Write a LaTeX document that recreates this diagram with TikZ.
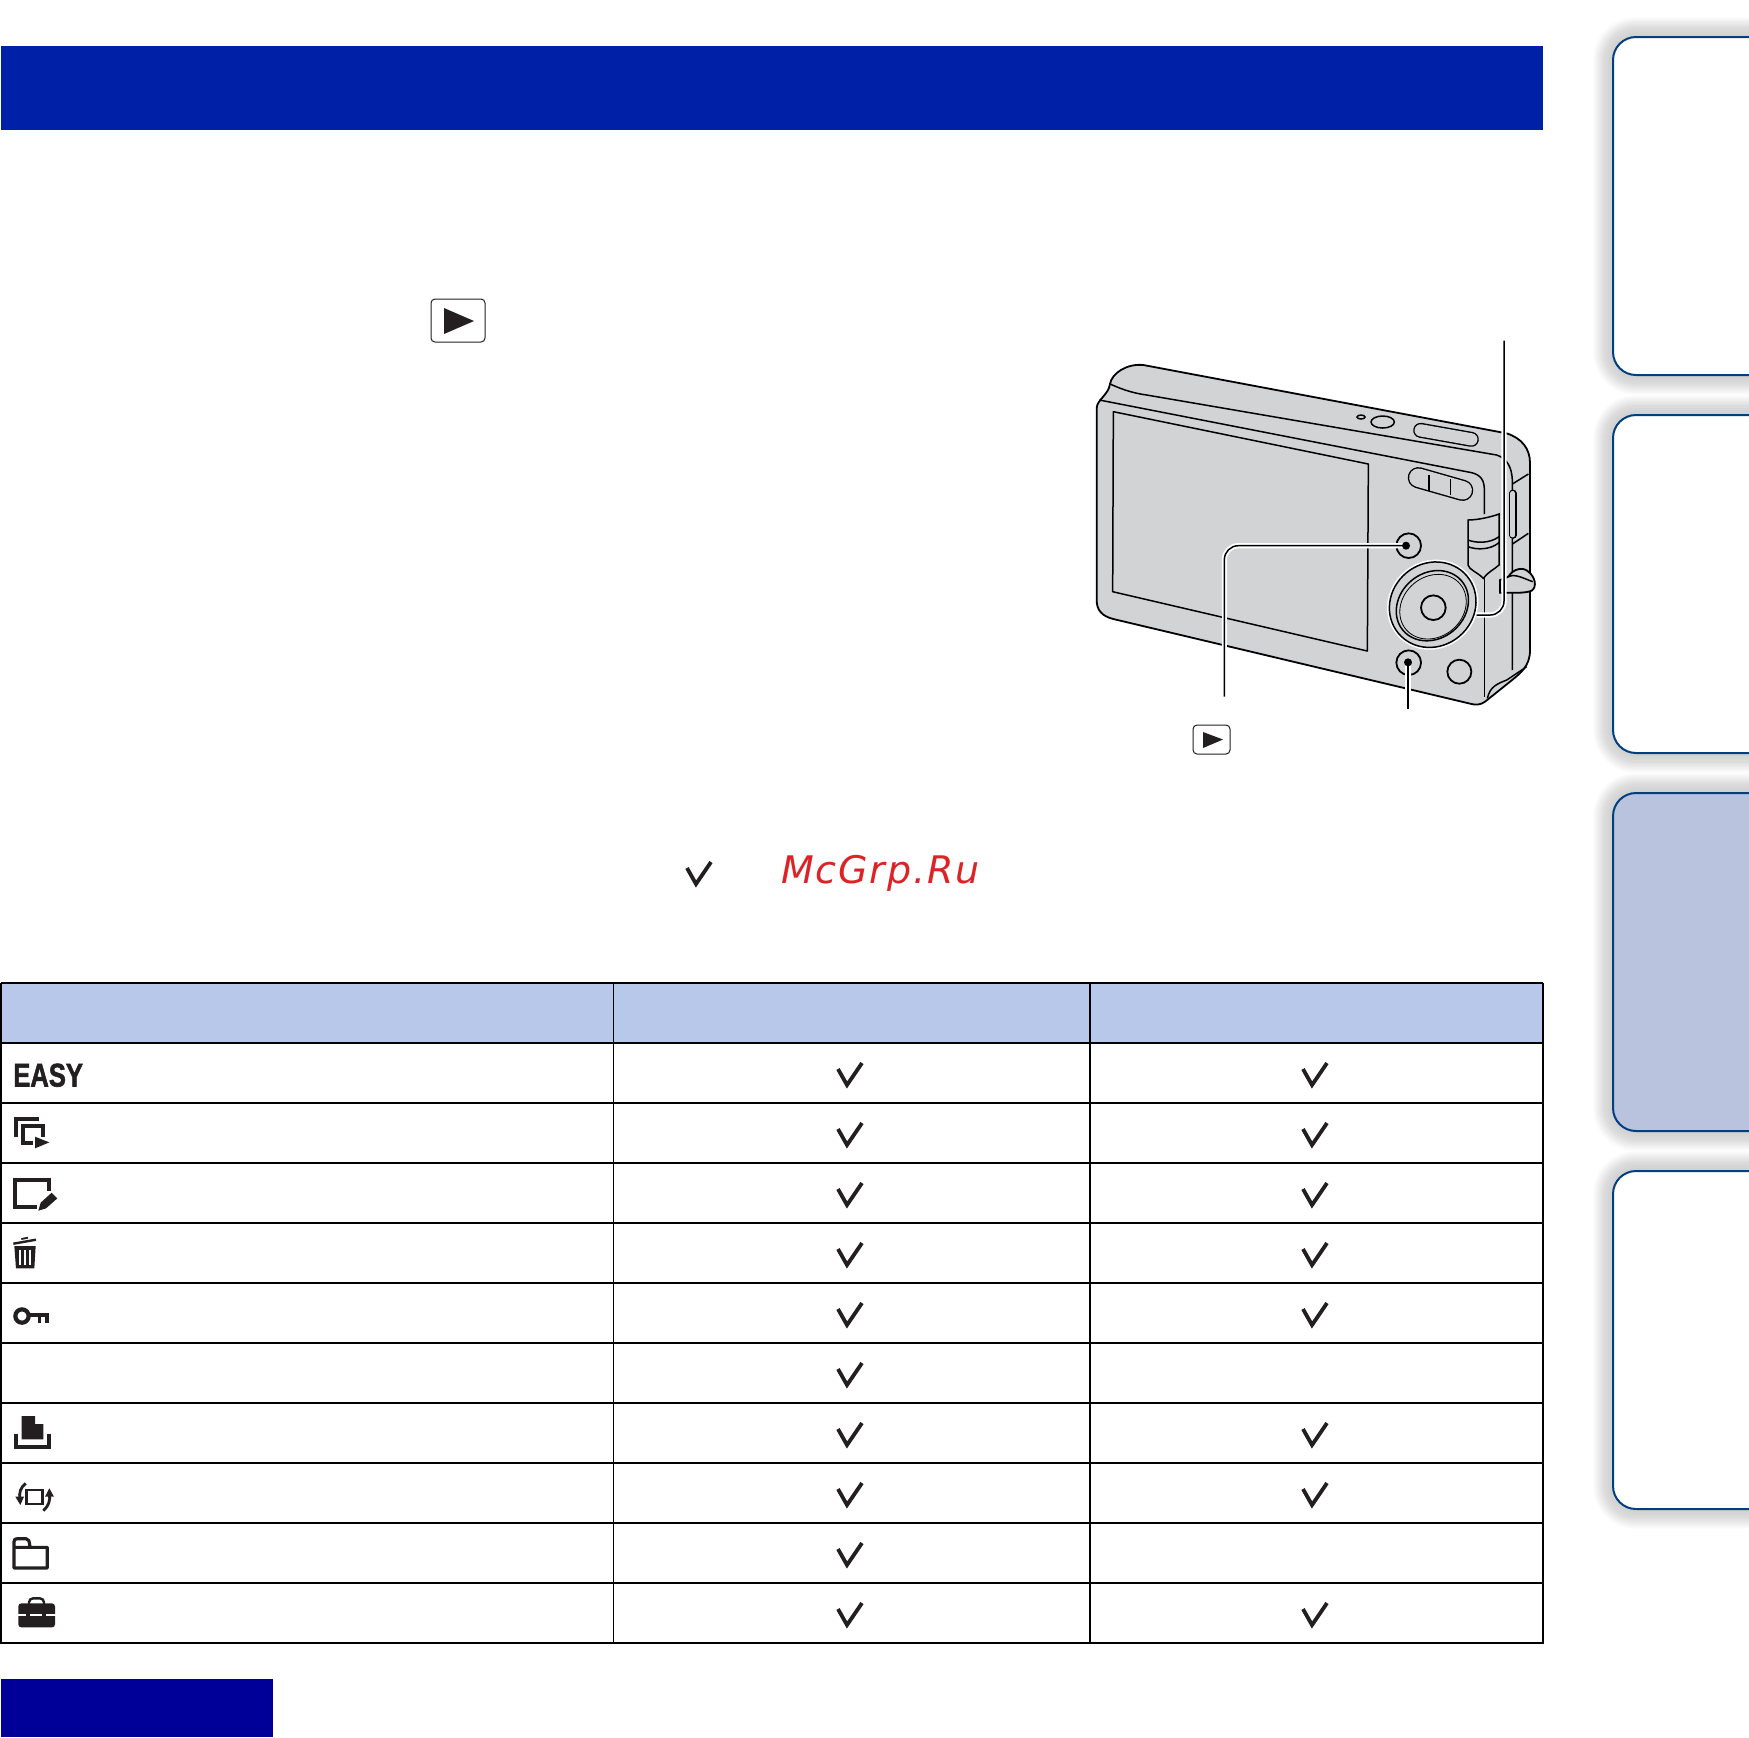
\documentclass[tikz,border=0pt]{standalone}
\usepackage{fontspec}
\newfontfamily\wmfont[LetterSpace=4.8]{DejaVu Sans}
\newfontfamily\easyfont{Liberation Sans}
\definecolor{barblue}{HTML}{0020A8}
\definecolor{navy}{HTML}{000099}
\definecolor{headblue}{HTML}{B8C8EA}
\definecolor{tabline}{HTML}{003F80}
\definecolor{tabfill}{HTML}{B9C3DD}
\definecolor{ink}{HTML}{231F20}
\definecolor{body}{HTML}{D1D3D4}
\definecolor{wmred}{HTML}{DC2428}
\tikzset{
  tabbox/.style={draw=tabline,line width=1pt,rounded corners=11.5pt},
  tline/.style={draw=black,line width=1pt},
  camline/.style={draw=black,line width=.75pt},
  camfill/.style={camline,fill=body},
  halo/.style={draw=white,line width=2.6pt},
  leader/.style={draw=black,line width=.75pt},
  icon/.style={draw=ink,line width=2pt},
  playbox/.style={draw=ink,line width=.5pt,rounded corners=2pt,fill=white},
  pics/chk/.style={code={\draw[ink,line width=1.9pt,miter limit=10] (-12,-5) -- (-3,11) -- (12,-11);}}
}
\begin{document}
\begin{tikzpicture}[x=.5pt,y=-.5pt]
\clip (0,0) rectangle (1749,1737);
\fill[white] (0,0) rectangle (1749,1737);
% side tabs with soft shadow
\foreach \t/\h in {37/375,415/753,793/1131,1171/1509}{
  \foreach \i in {3,5,7,9,10,...,20}{
    \pgfmathsetmacro\rr{11.5+\i/2}
    \fill[black,fill opacity=.012,rounded corners=\rr pt]
      (1613-\i,\t-\i) rectangle (1800,\h+\i);
  }
}
\draw[tabbox,fill=white] (1613,37) rectangle (1800,375);
\draw[tabbox,fill=white] (1613,415) rectangle (1800,753);
\draw[tabbox,fill=tabfill] (1613,793) rectangle (1800,1131);
\draw[tabbox,fill=white] (1613,1171) rectangle (1800,1509);
% title bar and bottom block
\fill[barblue] (1,46) rectangle (1543,130);
\fill[navy] (1,1679) rectangle (273,1737);
% play symbol in text
\draw[playbox] (431,299) rectangle (485,342);
\fill[ink] (444,308) -- (474,321) -- (444,334) -- cycle;
% camera, coordinates in 3x zoom pixels
\begin{scope}[shift={(1060,320)},x=.16667pt,y=-.16667pt]
  \draw[camfill,line width=.9pt] (150,192) .. controls (155,160) and (200,130) .. (250,135)
    -- (1340,340) .. controls (1385,355) and (1410,385) .. (1410,430)
    -- (1410,990) .. controls (1410,1040) and (1380,1060) .. (1350,1085)
    -- (1275,1145) .. controls (1262,1155) and (1245,1155) .. (1235,1152)
    -- (160,897) .. controls (125,888) and (110,870) .. (110,840)
    -- (110,265) .. controls (110,240) and (145,225) .. (150,192) -- cycle;
  \draw[camline] (150,192) .. controls (180,205) and (210,218) .. (260,225)
    -- (1310,405) .. controls (1340,415) and (1355,440) .. (1357,480)
    -- (1357,1050);
  \draw[camline] (118,240) -- (1235,458) .. controls (1262,465) and (1273,480) .. (1273,510) -- (1273,582);
  \draw[camline] (1273,775) -- (1273,1132);
  \draw[camline] (1357,492) -- (1405,462);
  \draw[camline] (1357,672) -- (1405,640);
  \draw[camline] (1282,1135) .. controls (1290,1100) and (1310,1092) .. (1340,1080) -- (1400,1040);
  % screen
  \draw[camfill,line join=round] (160,275) -- (925,432) -- (922,993) -- (158,815) -- cycle;
  % top controls
  \draw[camfill] (903,291) ellipse [x radius=12,y radius=6];
  \draw[camfill] (968,306) ellipse [x radius=35,y radius=18];
  \draw[black,line width=7.5pt,line cap=round] (1082,331) -- (1234,358);
  \draw[body,line width=6.1pt,line cap=round] (1082,331) -- (1234,358);
  % zoom rocker
  \draw[black,line width=10.6pt,line cap=round] (1075,473) -- (1208,511);
  \draw[body,line width=9.2pt,line cap=round] (1075,473) -- (1208,511);
  \draw[camline] (1107,465) -- (1107,512);
  \draw[camline] (1172,478) -- (1172,526);
  % side button
  \draw[black,line width=3.8pt,line cap=round] (1358,520) -- (1358,645);
  \draw[body,line width=2.4pt,line cap=round] (1358,520) -- (1358,645);
  % grip
  \draw[camfill] (1224,600) .. controls (1250,600) and (1290,592) .. (1317,582)
    -- (1317,735) .. controls (1300,750) and (1285,755) .. (1270,775)
    .. controls (1250,755) and (1228,750) .. (1224,735) -- cycle;
  \draw[camline] (1224,660) .. controls (1250,670) and (1290,670) .. (1317,650);
  \draw[camline] (1224,680) .. controls (1250,690) and (1290,690) .. (1317,668);
  % strap lug
  \draw[camfill,line width=.9pt] (1345,770) .. controls (1360,745) and (1390,740) .. (1405,755)
    .. controls (1425,770) and (1432,800) .. (1415,812) .. controls (1395,820) and (1365,818) .. (1345,818) -- (1320,818) -- (1320,780) -- cycle;
  \draw[camline] (1345,770) .. controls (1365,760) and (1390,775) .. (1418,785);
  % control wheel
  \fill[white] (1118,854) ellipse [x radius=141,y radius=131,rotate=40];
  \draw[camfill] (1118,854) ellipse [x radius=134,y radius=124,rotate=40];
  \draw[camfill] (1117,857) ellipse [x radius=115,y radius=98,rotate=40];
  \draw[camline,line width=.4pt] (1119,860) ellipse [x radius=106,y radius=90,rotate=40];
  \draw[camfill,line width=.9pt] (1120,863) circle [radius=37];
  % round buttons
  \draw[camfill,line width=.9pt] (1046,677) circle [radius=37];
  \draw[camfill,line width=.9pt] (1046,1028) circle [radius=37];
  \draw[camfill,line width=.9pt] (1198,1055) circle [radius=36];
  \coordinate (playdot) at (1038,677);
  \coordinate (playbend) at (493,677);
  \coordinate (playend) at (493,1130);
  \coordinate (deldot) at (1044,1027);
  \coordinate (delend) at (1044,1168);
  \coordinate (wheeledge) at (1250,885);
  \coordinate (wheelbend) at (1332,885);
  \coordinate (wheelend) at (1332,62);
  % leaders
  \draw[halo,rounded corners=7pt] (playdot) -- (playbend) -- (playend);
  \draw[leader,rounded corners=7pt] (playdot) -- (playbend) -- (playend);
  \draw[halo] (deldot) -- (delend);
  \draw[leader] (deldot) -- (delend);
  \draw[halo,rounded corners=7pt] (wheeledge) -- (wheelbend) -- (wheelend);
  \draw[leader,rounded corners=7pt] (wheeledge) -- (wheelbend) -- (wheelend);
  \fill[black] (playdot) circle [radius=12];
  \fill[black] (deldot) circle [radius=12];
\end{scope}
% small play symbol
\draw[playbox] (1193,725) rectangle (1230,754);
\fill[ink] (1203,732) -- (1223,739.5) -- (1203,748) -- cycle;
% check mark and watermark line
\pic at (699,873) {chk};
\node[anchor=base west,inner sep=0pt,text=wmred] (wm) at (781,883)
  {\fontsize{19}{19}\selectfont\wmfont\itshape McGrp.Ru};
% table
\fill[headblue] (1,983) rectangle (1543,1043);
\foreach \y in {983,1043,1103,...,1643}{\draw[tline] (1,\y) -- (1543,\y);}
\foreach \x in {1,1543}{\draw[tline] (\x,982.5) -- (\x,1643.5);}
\foreach \x in {613.5,1090}{\draw[black,line width=.55pt] (\x,983) -- (\x,1643);}
\foreach \y in {1074,1134,1194,1254,1314,1374,1434,1494,1554,1614}{\pic at (850,\y) {chk};}
\foreach \y in {1074,1134,1194,1254,1314,1434,1494,1614}{\pic at (1315,\y) {chk};}
% row icons
\node[anchor=base west,inner sep=0pt,text=ink,xscale=.78,font=\fontsize{16.4}{16}\selectfont\easyfont\bfseries] (easy) at (13,1086.5) {\special{pdf:code q 2 Tr 0.3 w}EASY\special{pdf:code Q}};
\begin{scope}[shift={(0,960)},x=.16667pt,y=-.16667pt]
  \draw[icon] (118,478) -- (48,478) -- (48,532);
  \draw[icon] (130,530) -- (130,498) -- (68,498) -- (68,550) -- (100,550);
  \fill[ink] (105,530) -- (148,547) -- (105,565) -- cycle;
  \draw[icon] (147,692) -- (147,660) -- (45,660) -- (45,740) -- (112,740);
  \fill[ink] (115,752) -- (122,728) -- (155,698) -- (172,715) -- (138,745) -- cycle;
  \draw[ink,line width=1.2pt] (40,851) -- (108,839);
  \draw[ink,line width=.9pt] (64,837) -- (84,833);
  \fill[ink] (43,858) -- (107,858) -- (103,925) -- (48,925) -- cycle;
  \foreach \s in {60,75,90}{\draw[white,line width=.7pt] (\s,870) -- (\s,915);}
  \draw[ink,line width=2.1pt] (66,1068) circle [radius=20];
  \fill[ink] (85,1060) rectangle (146,1071);
  \fill[ink] (113,1071) rectangle (124,1088);
  \fill[ink] (134,1071) rectangle (146,1088);
\end{scope}
\begin{scope}[shift={(0,1350)},x=.16667pt,y=-.16667pt]
  \fill[ink] (65,198) -- (105,198) -- (105,222) -- (130,222) -- (130,268) -- (65,268) -- cycle;
  \draw[icon] (47,252) -- (47,290) -- (148,290) -- (148,252);
  \draw[ink,line width=1.4pt] (80,420) rectangle (128,462);
  \draw[ink,line width=1.4pt] (77,400) .. controls (62,412) and (56,428) .. (60,448);
  \fill[ink] (46,440) -- (72,440) -- (61,465) -- cycle;
  \draw[ink,line width=1.4pt] (130,482) .. controls (146,468) and (152,450) .. (148,432);
  \fill[ink] (135,440) -- (162,440) -- (148,415) -- cycle;
  \draw[ink,line width=1.6pt,line join=round] (42,592) -- (42,575) .. controls (42,568) and (46,566) .. (52,566) -- (78,566) .. controls (86,566) and (88,572) .. (90,592) -- (142,592) -- (142,654) -- (42,654) -- (42,592) -- (90,592);
  \fill[ink,rounded corners=1.5pt] (55,760) rectangle (165,832);
  \draw[ink,line width=1.2pt,rounded corners=2pt] (87,762) -- (87,745) -- (132,745) -- (132,762);
  \draw[white,line width=.8pt] (53,794) -- (167,794);
  \fill[ink] (78,786) rectangle (90,801);
  \fill[ink] (126,786) rectangle (138,801);
\end{scope}
\end{tikzpicture}
\end{document}
